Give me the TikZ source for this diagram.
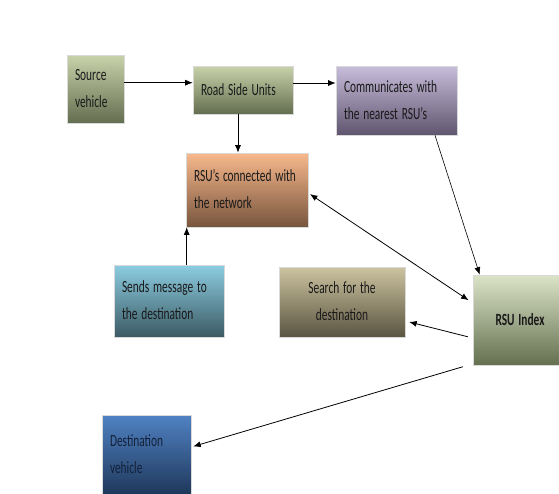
\documentclass[tikz,border=0pt]{standalone}
\usepackage{fontspec}
\setmainfont{Carlito}
\usepackage{graphicx}
\usepackage{xcolor}
\usetikzlibrary{arrows.meta}
\definecolor{greentop}{HTML}{C8D2AA}
\definecolor{greenbot}{HTML}{646E50}
\definecolor{lilactop}{HTML}{C8BEDC}
\definecolor{lilacbot}{HTML}{5F556E}
\definecolor{peachtop}{HTML}{F8B98C}
\definecolor{peachbot}{HTML}{78553E}
\definecolor{aquatop}{HTML}{8CCDE1}
\definecolor{aquabot}{HTML}{3C5A64}
\definecolor{tantop}{HTML}{CDC3A0}
\definecolor{tanbot}{HTML}{5A5541}
\definecolor{indextop}{HTML}{DCE4C8}
\definecolor{indexbot}{HTML}{647050}
\definecolor{bluetop}{HTML}{5082C3}
\definecolor{bluebot}{HTML}{1E375A}
\definecolor{navytext}{HTML}{14213A}
\newcommand{\boxlines}[2][l]{\noindent\scalebox{1}[1.5]{\renewcommand{\arraystretch}{1.32}\begin{tabular}{@{}#1@{}}#2\end{tabular}}}
\tikzset{flowbox/.style={rectangle, draw=gray!30, line width=0.6pt, inner xsep=8pt, inner ysep=0pt,
                         align=left, text=black!90, font=\fontsize{11.4}{13.6}\selectfont},
         flowarrow/.style={-{Latex[length=7.5pt,width=6pt]}, line width=0.8pt}}

\begin{document}
\begin{tikzpicture}[x=1pt,y=-1pt]
\useasboundingbox (0,0) rectangle (559,493);
\node[flowbox, minimum width=57pt, minimum height=68pt, text width=41pt, top color=greentop, bottom color=greenbot] (src) at (95.5,89) {\boxlines{Source\\vehicle}};
\node[flowbox, minimum width=100pt, minimum height=48pt, text width=84pt, top color=greentop, bottom color=greenbot] (rsu) at (243,90) {\boxlines{Road Side Units}};
\node[flowbox, minimum width=121pt, minimum height=69pt, text width=105pt, top color=lilactop, bottom color=lilacbot] (comm) at (396.5,100.5) {\boxlines{Communicates with\\the nearest RSU’s}};
\node[flowbox, minimum width=122pt, minimum height=74pt, text width=106pt, top color=peachtop, bottom color=peachbot] (net) at (247,190) {\boxlines{RSU’s connected with\\the network}};
\node[flowbox, minimum width=110pt, minimum height=72pt, text width=94pt, top color=aquatop, bottom color=aquabot] (sends) at (169,301) {\boxlines{Sends message to\\the destination}};
\node[flowbox, minimum width=126pt, minimum height=70pt, text width=110pt, align=center, top color=tantop, bottom color=tanbot] (srch) at (342,302) {\boxlines[c]{Search for the\\destination}};
\node[flowbox, minimum width=94pt, minimum height=90pt, text width=78pt, align=center, top color=indextop, bottom color=indexbot, font=\fontsize{11.4}{13.6}\selectfont\bfseries] (idx) at (520,320) {\boxlines[c]{RSU Index}};
\node[flowbox, minimum width=89pt, minimum height=80pt, text width=73pt, text=navytext, top color=bluetop, bottom color=bluebot] (dest) at (146.5,455) {\boxlines{Destination\\vehicle}};
\draw[flowarrow] ([yshift=6.3pt]src.east) -- ([yshift=6.3pt]src.east -| rsu.west);
\draw[flowarrow] ([yshift=7pt]rsu.east) -- ([yshift=7pt]rsu.east -| comm.west);
\draw[flowarrow] ([xshift=-5pt]rsu.south) -- ([xshift=-5pt]rsu.south |- net.north);
\draw[flowarrow] ([xshift=17.7pt]sends.north) -- ([xshift=17.7pt]sends.north |- net.south);
\draw[flowarrow, line width=0.6pt] ([xshift=38.5pt]comm.south) -- ([xshift=7pt]idx.north west);
\draw[flowarrow, {Latex[length=7.5pt,width=6pt]}-{Latex[length=7.5pt,width=6pt]}, shorten >=5pt, shorten <=2pt] ([yshift=-3pt]net.east) -- ([yshift=17pt]idx.west);
\draw[flowarrow, shorten <=5pt, shorten >=4pt] ([yshift=-18pt]idx.west) -- ([yshift=-19pt]srch.east);
\draw[flowarrow, shorten <=5pt, shorten >=2pt] ([xshift=-5pt]idx.south west) -- ([yshift=8pt]dest.east);
\end{tikzpicture}
\end{document}
